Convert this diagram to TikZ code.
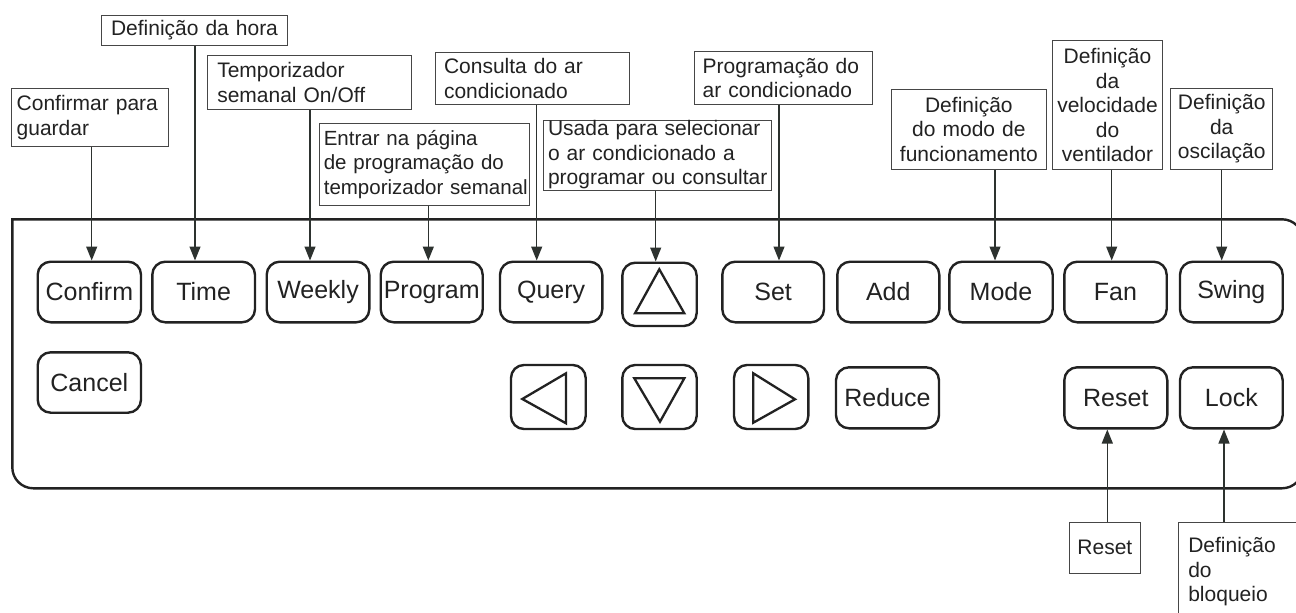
\documentclass[tikz,border=0pt]{standalone}
\usepackage{fontspec}
\setmainfont{Liberation Sans}
\usetikzlibrary{arrows.meta}
\definecolor{ink}{RGB}{34,34,34}
\definecolor{boxc}{RGB}{70,70,70}
\definecolor{arrowc}{RGB}{45,50,47}
\begin{document}
\begin{tikzpicture}[x=1pt,y=-1pt,
  lbl/.style={draw=boxc, line width=1pt, inner ysep=0pt, font=\fontsize{21}{24.5}\selectfont, text=ink},
  btn/.style={draw=ink, line width=2.4pt, rounded corners=13pt, inner sep=0pt, font=\fontsize{25}{30}\selectfont, text=ink},
  panel/.style={draw=ink, line width=2.4pt},
  tri/.style={draw=ink, line width=2.3pt, line join=miter},
  conn/.style={draw=arrowc, line width=1.2pt, -{Triangle[length=14pt,width=11pt]}}]
\useasboundingbox (0,0) rectangle (1296,613);
\fill[white] (0,0) rectangle (1296,613);
\clip (0,0) rectangle (1296,613);

% panel
\draw[panel, rounded corners=21pt, line cap=rect] (12.3,219.3) -- (12.3,488.3) -- (1303,488.3) -- (1303,219.3) -- (12.3,219.3);

% label boxes
\node[lbl, minimum width=156.6pt, minimum height=58.4pt, inner xsep=5pt, text width=146.6pt, align=left] (l1) at (90,117.5) {Confirmar para\\guardar};
\node[lbl, minimum width=185.6pt, minimum height=30.7pt, inner xsep=4pt, text width=177.6pt, align=center] (l2) at (194.5,30.35) {Definição da hora};
\node[lbl, minimum width=204.4pt, minimum height=53.3pt, inner xsep=10pt, text width=184.4pt, align=left] (l3) at (309.5,82.35) {Temporizador\\semanal On/Off};
\node[lbl, minimum width=210pt, minimum height=81.7pt, inner xsep=4.5pt, text width=201pt, align=left, font=\fontsize{20.5}{24.5}\selectfont] (l4) at (424.3,164.15) {\mbox{Entrar na página}\\\mbox{de programação do}\\\mbox{temporizador semanal}};
\node[lbl, minimum width=194pt, minimum height=51.3pt, inner xsep=9pt, text width=176pt, align=left] (l5) at (532,78.35) {Consulta do ar\\condicionado};
\node[lbl, minimum width=228.4pt, minimum height=70pt, inner xsep=4.7pt, text width=219pt, align=left] (l6) at (657.5,155) {\makebox[219pt][s]{Usada para selecionar}\\\makebox[219pt][s]{o ar condicionado a}\\\makebox[219pt][s]{programar ou consultar}};
\node[lbl, minimum width=178.3pt, minimum height=52.3pt, inner xsep=8.7pt, text width=160.9pt, align=left] (l7) at (783.15,77.85) {Programação do\\ar condicionado};
\node[lbl, minimum width=154.3pt, minimum height=80.3pt, inner xsep=4pt, text width=146.3pt, align=center] (l8) at (968.85,129.15) {Definição\\do modo de\\funcionamento};
\node[lbl, minimum width=110.4pt, minimum height=128.6pt, inner xsep=3pt, text width=104.4pt, align=center] (l9) at (1107.5,105) {Definição\\da\\velocidade\\do\\ventilador};
\node[lbl, minimum width=102pt, minimum height=80.8pt, inner xsep=4pt, text width=94pt, align=center] (l10) at (1221.7,128.9) {Definição\\da\\oscilação};
\node[lbl, minimum width=71.7pt, minimum height=51pt, inner xsep=3pt, text width=65.7pt, align=center] (l11) at (1104.85,547.8) {Reset};
\node[lbl, minimum width=141.7pt, minimum height=99.4pt, inner xsep=10pt, text width=121.7pt, align=left] (l12) at (1249.15,572) {Definição\\do\\bloqueio};

% buttons row 1
\node[btn, minimum width=103.3pt, minimum height=60.6pt] (bconfirm) at (89.35,292) {Confirm};
\node[btn, minimum width=102.7pt, minimum height=60.6pt] (btime) at (203.65,292) {Time};
\node[btn, minimum width=102.6pt, minimum height=60.6pt] (bweekly) at (318,292) {Weekly};
\node[btn, minimum width=102pt, minimum height=60.6pt] (bprogram) at (431.7,292) {Program};
\node[btn, minimum width=102.3pt, minimum height=60.6pt] (bquery) at (551.15,292) {Query};
\node[btn, minimum width=74.4pt, minimum height=63.3pt] (bup) at (659.5,294.35) {};
\node[btn, minimum width=101.7pt, minimum height=60.6pt] (bset) at (773.15,292) {Set};
\node[btn, minimum width=102pt, minimum height=60.6pt] (badd) at (888.3,292) {Add};
\node[btn, minimum width=103.4pt, minimum height=60.6pt] (bmode) at (1001,292) {Mode};
\node[btn, minimum width=102.4pt, minimum height=60.6pt] (bfan) at (1115.5,292) {Fan};
\node[btn, minimum width=102.7pt, minimum height=60.6pt] (bswing) at (1231.35,292) {Swing};
% buttons row 2
\node[btn, minimum width=103.3pt, minimum height=60.4pt] (bcancel) at (89.35,382.5) {Cancel};
\node[btn, minimum width=74.7pt, minimum height=64pt] (bleft) at (548.35,397) {};
\node[btn, minimum width=74.4pt, minimum height=64pt] (bdown) at (659.5,397) {};
\node[btn, minimum width=74.3pt, minimum height=64pt] (bright) at (771.15,397) {};
\node[btn, minimum width=103pt, minimum height=61pt] (breduce) at (887.5,397.8) {Reduce};
\node[btn, minimum width=103pt, minimum height=61pt] (breset) at (1115.8,397.8) {Reset};
\node[btn, minimum width=102.7pt, minimum height=61pt] (block) at (1231.35,397.8) {Lock};

% triangles
\draw[tri] (659.3,269.3) -- (635,313.3) -- (684.3,313.3) -- cycle;
\draw[tri] (634.3,378.3) -- (684.3,378.3) -- (660,421.7) -- cycle;
\draw[tri] (522.3,399) -- (566,373.3) -- (566,423.3) -- cycle;
\draw[tri] (753.3,373.3) -- (795,399.3) -- (753.3,422.7) -- cycle;

% connector x positions
\coordinate (x1) at (91.7,0);
\coordinate (x2) at (195,0);
\coordinate (x3) at (310,0);
\coordinate (x4) at (428.3,0);
\coordinate (x5) at (536.7,0);
\coordinate (x6) at (655.7,0);
\coordinate (x7) at (779,0);
\coordinate (x8) at (995,0);
\coordinate (x9) at (1111.7,0);
\coordinate (x10) at (1221.7,0);
\coordinate (x11) at (1107.3,0);
\coordinate (x12) at (1224,0);

% connectors
\draw[conn] (l1.south -| x1) -- (bconfirm.north -| x1);
\draw[conn] (l2.south -| x2) -- (btime.north -| x2);
\draw[conn] (l3.south -| x3) -- (bweekly.north -| x3);
\draw[conn] (l4.south -| x4) -- (bprogram.north -| x4);
\draw[conn] (l5.south -| x5) -- (bquery.north -| x5);
\draw[conn] (l6.south -| x6) -- (bup.north -| x6);
\draw[conn] (l7.south -| x7) -- (bset.north -| x7);
\draw[conn] (l8.south -| x8) -- (bmode.north -| x8);
\draw[conn] (l9.south -| x9) -- (bfan.north -| x9);
\draw[conn] (l10.south -| x10) -- (bswing.north -| x10);
\draw[conn] (l11.north -| x11) -- (breset.south -| x11);
\draw[conn] (l12.north -| x12) -- (block.south -| x12);
\end{tikzpicture}
\end{document}
